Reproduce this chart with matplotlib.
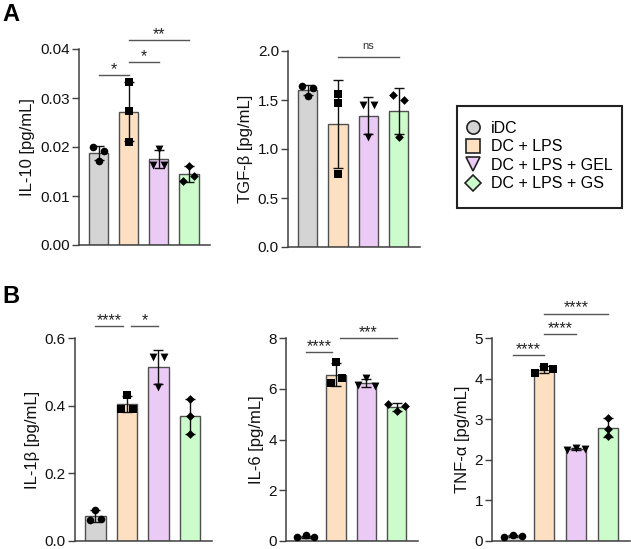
import numpy as np
import matplotlib
matplotlib.use("Agg")
import matplotlib.pyplot as plt
from matplotlib.lines import Line2D
from matplotlib.patches import Rectangle
from matplotlib.ticker import FormatStrFormatter

plt.rcParams['font.family'] = ['Liberation Sans', 'DejaVu Sans']

# ---------------- data ----------------
groups = ["iDC", "DC + LPS", "DC + LPS + GEL", "DC + LPS + GS"]

il10 = [[0.0201, 0.0172, 0.0191],
        [0.0332, 0.0273, 0.0211],
        [0.0164, 0.0196, 0.0164],
        [0.0131, 0.0162, 0.0141]]
tgfb = [[1.64, 1.54, 1.62],
        [1.56, 1.47, 0.74],
        [1.45, 1.12, 1.45],
        [1.55, 1.12, 1.50]]
il1b = [[0.062, 0.093, 0.066],
        [0.391, 0.432, 0.391],
        [0.544, 0.456, 0.544],
        [0.420, 0.370, 0.315]]
il6 = [[0.15, 0.22, 0.15],
       [6.21, 7.06, 6.41],
       [6.15, 6.41, 6.11],
       [5.41, 5.11, 5.33]]
tnfa = [[0.10, 0.15, 0.12],
        [4.13, 4.29, 4.24],
        [2.25, 2.30, 2.26],
        [3.03, 2.77, 2.58]]

ylabels = ["IL-10 [pg/mL]", "TGF-β [pg/mL]", "IL-1β [pg/mL]", "IL-6 [pg/mL]", "TNF-α [pg/mL]"]
yticks = [[0.00, 0.01, 0.02, 0.03, 0.04],
          [0.0, 0.5, 1.0, 1.5, 2.0],
          [0.0, 0.2, 0.4, 0.6],
          [0, 2, 4, 6, 8],
          [0, 1, 2, 3, 4, 5]]
yfmt = ['%.2f', '%.1f', '%.1f', '%d', '%d']

# significance: (bar i, bar j, height, label)
sig_il10 = [(0, 1, 0.0347, "*"), (1, 2, 0.0373, "*"), (1, 3, 0.0418, "**")]
sig_tgfb = [(1, 3, 1.94, "ns")]
sig_il1b = [(0, 1, 0.636, "****"), (1, 2, 0.636, "*")]
sig_il6 = [(0, 1, 7.45, "****"), (1, 3, 8.0, "***")]
sig_tnfa = [(0, 1, 4.57, "****"), (1, 2, 5.1, "****"), (1, 3, 5.6, "****")]

# ---------------- style ----------------
W, H = 631, 549
fig = plt.figure(figsize=(W / 100, H / 100), dpi=100)

bar_colors = ["#d4d4d4", "#fde0c2", "#ebcaf5", "#ccfbcc"]
markers = ["o", "s", "v", "D"]
msizes = [30, 26, 32, 20]
edge = "#505050"
spine_c = "#404040"


def ax_px(l, t, r, b):
    return fig.add_axes([l / W, 1 - b / H, (r - l) / W, (b - t) / H])


def jitter(vals, thr):
    vals = np.asarray(vals, float)
    order = np.argsort(vals, kind="stable")
    offs = np.zeros(len(vals))
    clusters = [[order[0]]]
    for k in order[1:]:
        if vals[k] - vals[clusters[-1][-1]] < thr:
            clusters[-1].append(k)
        else:
            clusters.append([k])
    for c in clusters:
        n = len(c)
        if n > 1:
            sp = 0.36 if n == 2 else 0.28
            for m, k in enumerate(sorted(c)):
                offs[k] = (m - (n - 1) / 2) * sp
    return offs


def panel(box, data, ymax, ylabel, ticks, fmt, sigs, shrink=0.0):
    ax = ax_px(*box)
    x = np.arange(len(data))
    means = [np.mean(d) for d in data]
    sds = [np.std(d, ddof=1) for d in data]
    ax.bar(x, means, width=0.64, color=bar_colors, edgecolor=edge, linewidth=1.0, zorder=1)
    ax.errorbar(x, means, yerr=sds, fmt="none", ecolor="#111111", elinewidth=1.0,
                capsize=3.5, capthick=1.0, zorder=2)
    for i, d in enumerate(data):
        offs = jitter(d, 0.035 * ymax)
        ax.scatter(x[i] + offs, d, marker=markers[i], s=msizes[i], color="black",
                   linewidths=0, zorder=3)
    ax.set_xlim(-0.65, 3.7)
    ax.set_ylim(0, ymax)
    ax.set_xticks([])
    ax.set_yticks(ticks)
    ax.yaxis.set_major_formatter(FormatStrFormatter(fmt))
    for s in ["top", "right"]:
        ax.spines[s].set_visible(False)
    for s in ["left", "bottom"]:
        ax.spines[s].set_color(spine_c)
        ax.spines[s].set_linewidth(1.1)
    ax.tick_params(axis="y", length=5, width=1.0, color=spine_c, pad=1.5,
                   labelsize=11, labelcolor="#111111")
    ax.set_ylabel(ylabel, fontsize=12, color="#111111", labelpad=3.5)
    for (i, j, yy, lab) in sigs:
        xi, xj = i, j
        if shrink:
            if i == 1:
                xi = i + shrink
            if j == 1:
                xj = j - shrink
        ax.plot([xi, xj], [yy, yy], color="#555555", lw=1.0, clip_on=False, zorder=4)
        if lab == "ns":
            ax.annotate(lab, ((xi + xj) / 2, yy), xytext=(0, 5.5), textcoords="offset points",
                        ha="center", va="baseline", fontsize=8, color="#333333",
                        annotation_clip=False)
        else:
            ax.annotate(lab, ((xi + xj) / 2, yy), xytext=(0, 0.8), textcoords="offset points",
                        ha="center", va="baseline", fontsize=11.5, color="#222222",
                        annotation_clip=False)
    return ax


panel((79, 49, 210, 245), il10, 0.04, ylabels[0], yticks[0], yfmt[0], sig_il10)
panel((288, 51, 420, 247), tgfb, 2.0, ylabels[1], yticks[1], yfmt[1], sig_tgfb)
panel((75, 338, 212, 541), il1b, 0.6, ylabels[2], yticks[2], yfmt[2], sig_il1b, shrink=0.13)
panel((286, 338, 418, 541), il6, 8.0, ylabels[3], yticks[3], yfmt[3], sig_il6, shrink=0.13)
panel((492, 338, 630, 541), tnfa, 5.0, ylabels[4], yticks[4], yfmt[4], sig_tnfa)

# panel letters
fig.text(2 / W, 1 - 3 / H, "A", fontsize=17, fontweight="bold", va="top", ha="left")
fig.text(2 / W, 1 - 285 / H, "B", fontsize=17, fontweight="bold", va="top", ha="left")

# legend
handles = [Line2D([], [], linestyle="none", marker=m, markersize=9.5 if m != "D" else 8.5,
                  markerfacecolor=c, markeredgecolor="#222222", markeredgewidth=1.2)
           for m, c in zip(markers, bar_colors)]
fig.legend(handles, groups, loc="center", bbox_to_anchor=(539 / W, 1 - 156 / H),
           frameon=False, fontsize=11.5, handlelength=1.0, handletextpad=0.6,
           labelspacing=0.22, borderpad=0)
fig.add_artist(Rectangle((457 / W, 1 - 208 / H), (622 - 457) / W, (208 - 106) / H,
                         transform=fig.transFigure, fill=False, edgecolor="#222222",
                         linewidth=1.5))

fig.savefig("out.png", dpi=100)
